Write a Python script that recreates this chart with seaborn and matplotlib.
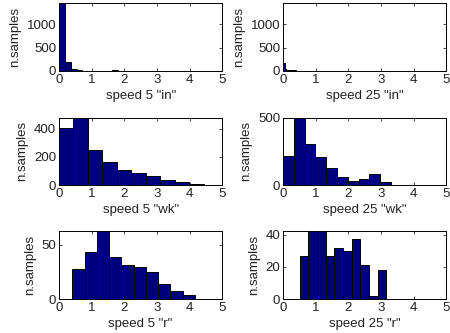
import numpy as np
import pandas as pd
import seaborn as sns
import matplotlib
matplotlib.use("Agg")
import matplotlib.pyplot as plt

sns.set_theme(style="white")
plt.rcParams['font.family'] = ['Liberation Sans', 'DejaVu Sans']

# data: (bin range, counts of 10 equal bins)
labels = ['speed 5 "in"', 'speed 25 "in"', 'speed 5 "wk"', 'speed 25 "wk"', 'speed 5 "r"', 'speed 25 "r"']
ranges = [(0.0, 1.8), (0.0, 0.5), (0.0, 4.44), (0.0, 3.3), (0.41, 4.16), (0.51, 3.16)]
counts_in5 = [1450, 195, 45, 20, 4, 2, 0, 0, 3, 10]
counts_in25 = [165, 45, 25, 15, 20, 25, 15, 10, 8, 5]
counts_wk5 = [409, 480, 249, 162, 111, 87, 64, 35, 21, 7]
counts_wk25 = [212, 500, 305, 205, 125, 57, 30, 42, 80, 20]
counts_r5 = [28, 43, 62, 39, 31, 29, 25, 14, 7, 4]
counts_r25 = [27, 42, 42, 27, 32, 30, 37, 21, 2, 18]
all_counts = [counts_in5, counts_in25, counts_wk5, counts_wk25, counts_r5, counts_r25]
ylims = [1450, 1450, 480, 500, 62, 42]
yticks = [[0, 500, 1000], [0, 500, 1000], [0, 200, 400], [0, 500], [0, 50], [0, 20, 40]]
xticks = [0, 1, 2, 3, 4, 5]

fig = plt.figure(figsize=(4.5, 3.33), dpi=100)
lefts = [0.131, 0.629]
bottoms = [0.787, 0.444, 0.102]
w, h = 0.363, 0.203

for i in range(6):
    r, c = divmod(i, 2)
    ax = fig.add_axes([lefts[c], bottoms[r], w, h])
    lo, hi = ranges[i]
    edges = np.linspace(lo, hi, 11)
    centers = (edges[:-1] + edges[1:]) / 2
    df = pd.DataFrame({"x": centers, "n": np.asarray(all_counts[i], dtype=float)})
    sns.histplot(data=df, x="x", weights="n", bins=[float(e) for e in edges], ax=ax,
                 color="#00007F", edgecolor="black", linewidth=0.7, alpha=1)
    ax.set_xlim(0, 5)
    ax.set_ylim(0, ylims[i])
    ax.set_xticks(xticks)
    ax.set_yticks(yticks[i])
    ax.set_xlabel(labels[i], fontsize=9.5, labelpad=3, color="#222222")
    ax.set_ylabel("n.samples", fontsize=9.5, labelpad=4, color="#222222")
    ax.tick_params(direction="in", length=2.5, width=0.6, labelsize=9.5,
                   top=True, right=True, bottom=True, left=True, pad=2,
                   labelcolor="#222222")
    for s in ax.spines.values():
        s.set_color("black")
        s.set_linewidth(0.7)
    ax.set_facecolor("white")

fig.savefig("out.png", dpi=100, facecolor="white")
